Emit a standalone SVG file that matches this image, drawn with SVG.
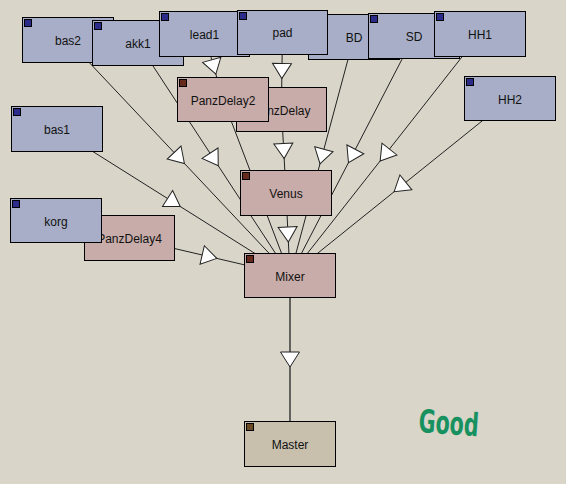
<svg xmlns="http://www.w3.org/2000/svg" width="566" height="484" viewBox="0 0 566 484">
<style>
.bg{fill:#d9d5c9}
.box{stroke:#000;stroke-width:1}
.blue{fill:#a8aec7}
.pink{fill:#c8aca9}
.mast{fill:#c8bfad}
.ind{stroke:#000;stroke-width:1}
.ib{fill:#2b2b8a}
.ip{fill:#652a1c}
.im{fill:#6b4a26}
.lbl{font-family:"Liberation Sans",Arial,sans-serif;font-size:12px;fill:#111;text-anchor:middle}
.edge{fill:none;stroke:#222;stroke-width:1;marker-mid:url(#arr)}
.good{font-family:"DejaVu Sans",sans-serif;font-weight:bold;font-size:32px;fill:#17915f}
</style>
<defs>
<marker id="arr" markerUnits="userSpaceOnUse" viewBox="-12 -12 24 24" refX="0" refY="0" markerWidth="24" markerHeight="24" orient="auto" overflow="visible">
<path d="M-7.5,-9.5 L7.5,0 L-7.5,9.5 Z" fill="#fff" stroke="#222" stroke-width="1"/>
</marker>
</defs>
<rect class="bg" x="0" y="0" width="566" height="484"/>
<g id="connectors">
<path class="edge" d="M68,40 L179.25,158 L290,275.5"/>
<path class="edge" d="M138,43 L214.15,159.5 L290,275.5"/>
<path class="edge" d="M204.5,34 L213.8,67 L223,99.5"/>
<path class="edge" d="M282.5,32.5 L281.9,71 L281.5,109.5"/>
<path class="edge" d="M223,99.5 L256.5,187.5 L290,275.5"/>
<path class="edge" d="M281.5,109.5 L283.75,151 L286,193"/>
<path class="edge" d="M286,193 L288,234.5 L290,275.5"/>
<path class="edge" d="M354,37 L321.95,156.5 L290,275.5"/>
<path class="edge" d="M414,36 L351.9,156 L290,275.5"/>
<path class="edge" d="M480,34 L384.8,155 L290,275.5"/>
<path class="edge" d="M510,98.5 L400,187 L290,275.5"/>
<path class="edge" d="M57,129 L173.9,202.5 L290,275.5"/>
<path class="edge" d="M129.5,238 L209.5,256.7 L290,275.5"/>
<path class="edge" d="M290,275.5 L290,359.5 L290,444" style="stroke:#444;stroke-width:1.6"/>
</g>
<g id="bas2"><rect class="box blue" x="22.5" y="17.5" width="91" height="45"/><rect class="ind ib" x="24.5" y="19.5" width="7" height="7"/><text class="lbl" x="68" y="45">bas2</text></g>
<g id="akk1"><rect class="box blue" x="92.5" y="20.5" width="91" height="45"/><rect class="ind ib" x="94.5" y="22.5" width="7" height="7"/><text class="lbl" x="138" y="48">akk1</text></g>
<g id="lead1"><rect class="box blue" x="159.5" y="11.5" width="90" height="45"/><rect class="ind ib" x="161.5" y="13.5" width="7" height="7"/><text class="lbl" x="204.5" y="39">lead1</text></g>
<g id="BD"><rect class="box blue" x="308.5" y="14.5" width="91" height="45"/><rect class="ind ib" x="310.5" y="16.5" width="7" height="7"/><text class="lbl" x="354" y="42">BD</text></g>
<g id="pad"><rect class="box blue" x="237.5" y="10.5" width="90" height="44"/><rect class="ind ib" x="239.5" y="12.5" width="7" height="7"/><text class="lbl" x="282.5" y="37">pad</text></g>
<g id="SD"><rect class="box blue" x="368.5" y="13.5" width="91" height="45"/><rect class="ind ib" x="370.5" y="15.5" width="7" height="7"/><text class="lbl" x="414" y="41">SD</text></g>
<g id="HH1"><rect class="box blue" x="434.5" y="11.5" width="91" height="45"/><rect class="ind ib" x="436.5" y="13.5" width="7" height="7"/><text class="lbl" x="480" y="39">HH1</text></g>
<g id="HH2"><rect class="box blue" x="464.5" y="76.5" width="91" height="44"/><rect class="ind ib" x="466.5" y="78.5" width="7" height="7"/><text class="lbl" x="510" y="103.5">HH2</text></g>
<g id="bas1"><rect class="box blue" x="11.5" y="106.5" width="91" height="45"/><rect class="ind ib" x="13.5" y="108.5" width="7" height="7"/><text class="lbl" x="57" y="134">bas1</text></g>
<g id="PanzDelay"><rect class="box pink" x="236.5" y="87.5" width="90" height="44"/><text class="lbl" x="281.5" y="114.5">PanzDelay</text></g>
<g id="PanzDelay2"><rect class="box pink" x="177.5" y="77.5" width="91" height="44"/><rect class="ind ip" x="179.5" y="79.5" width="7" height="7"/><text class="lbl" x="223" y="104.5">PanzDelay2</text></g>
<g id="PanzDelay4"><rect class="box pink" x="84.5" y="215.5" width="90" height="45"/><text class="lbl" x="129.5" y="243">PanzDelay4</text></g>
<g id="korg"><rect class="box blue" x="10.5" y="198.5" width="91" height="44"/><rect class="ind ib" x="12.5" y="200.5" width="7" height="7"/><text class="lbl" x="56" y="225.5">korg</text></g>
<g id="Venus"><rect class="box pink" x="240.5" y="170.5" width="91" height="45"/><rect class="ind ip" x="242.5" y="172.5" width="7" height="7"/><text class="lbl" x="286" y="198">Venus</text></g>
<g id="Mixer"><rect class="box pink" x="244.5" y="253.5" width="91" height="44"/><rect class="ind ip" x="246.5" y="255.5" width="7" height="7"/><text class="lbl" x="290" y="280.5">Mixer</text></g>
<g id="Master"><rect class="box mast" x="244.5" y="421.5" width="91" height="45"/><rect class="ind im" x="246.5" y="423.5" width="7" height="7"/><text class="lbl" x="290" y="449">Master</text></g>
<text class="good" x="418" y="432" textLength="60" lengthAdjust="spacingAndGlyphs" transform="rotate(4 418 432)">Good</text>
</svg>
